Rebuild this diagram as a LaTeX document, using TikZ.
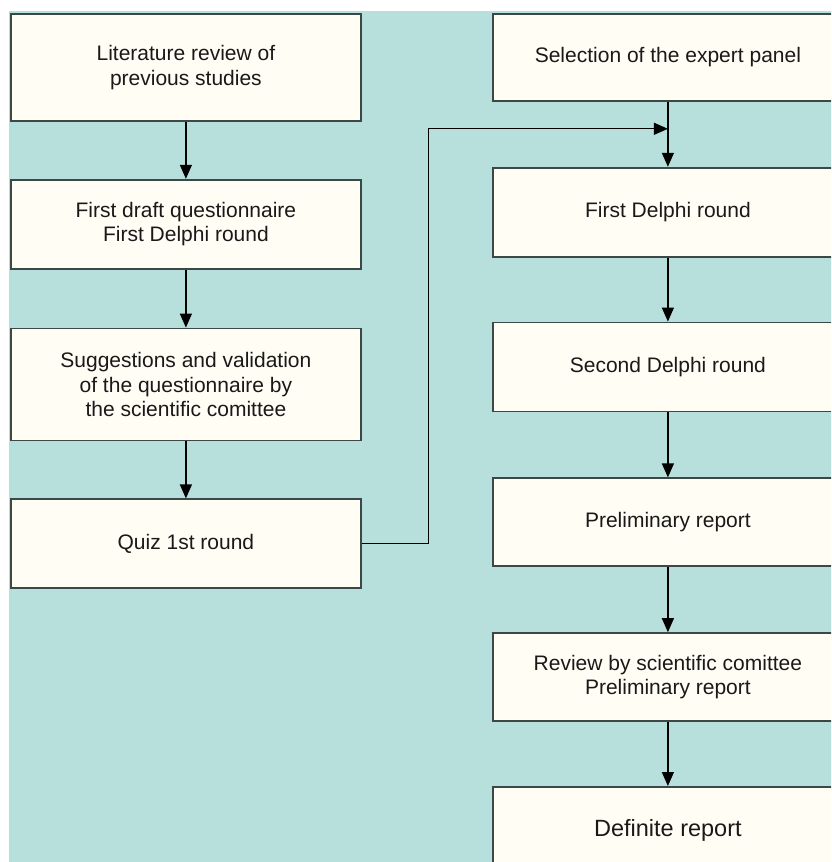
\documentclass[tikz,border=0pt]{standalone}
\usepackage{fontspec}
\setmainfont{Liberation Sans}
\usetikzlibrary{arrows.meta, positioning}
\definecolor{panelbg}{RGB}{183,224,220}
\definecolor{boxfill}{RGB}{255,253,244}
\definecolor{boxline}{RGB}{60,72,70}

\begin{document}
\begin{tikzpicture}[
    x=1pt, y=1pt,
    node distance=57pt,
    block/.style={rectangle, draw=boxline, line width=1.8pt, fill=boxfill,
                  minimum width=350pt, inner sep=0pt, align=center,
                  text=black!90, font=\fontsize{21}{24.5}\selectfont},
    arrow/.style={-{Triangle[length=14pt,width=12pt]}, line width=1.3pt},
]
    \useasboundingbox (0,0) rectangle (831,-862);
    \clip (0,0) rectangle (831,-862);
    \fill[white] (0,0) rectangle (831,-862);
    \fill[panelbg] (9,-11) rectangle (831,-862);

    % left column
    \node[block, minimum height=107pt, anchor=north west] (lit) at (10,-13)
        {Literature review of\\previous studies};
    \node[block, minimum height=89pt, below=of lit] (draft)
        {First draft questionnaire\\First Delphi round};
    \node[block, minimum height=112pt, below=58pt of draft] (valid)
        {Suggestions and validation\\of the questionnaire by\\the scientific comittee};
    \node[block, minimum height=89pt, below=of valid] (quiz) {Quiz 1st round};

    % right column
    \node[block, minimum height=87pt, anchor=north west] (panel) at (492,-13)
        {Selection of the expert panel};
    \node[block, minimum height=89pt, below=65pt of panel] (first) {First Delphi round};
    \node[block, minimum height=89pt, below=64pt of first] (second) {Second Delphi round};
    \node[block, minimum height=88pt, below=65pt of second] (prelim) {Preliminary report};
    \node[block, minimum height=88pt, below=65pt of prelim] (review)
        {Review by scientific comittee\\Preliminary report};
    \node[block, minimum height=88pt, below=64pt of review,
          font=\fontsize{23.5}{28}\selectfont] (final) {Definite report};

    \coordinate (join) at ([yshift=-27pt]panel.south);

    \draw[arrow] (lit) -- (draft);
    \draw[arrow] (draft) -- (valid);
    \draw[arrow] (valid) -- (quiz);
    \draw[arrow] (quiz.east) -- ++(67pt,0) |- (join);
    \draw[arrow] (panel) -- (first);
    \draw[arrow] (first) -- (second);
    \draw[arrow] (second) -- (prelim);
    \draw[arrow] (prelim) -- (review);
    \draw[arrow] (review) -- (final);
\end{tikzpicture}
\end{document}
